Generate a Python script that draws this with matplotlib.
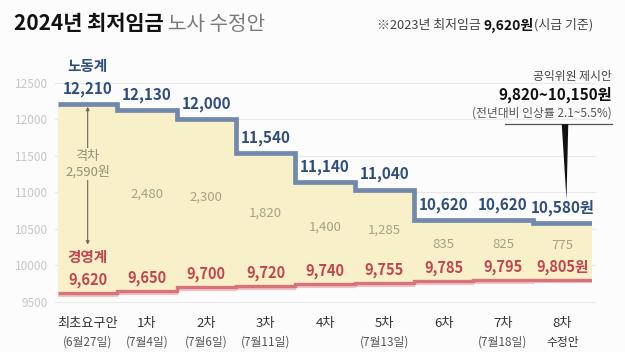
import matplotlib
matplotlib.use('Agg')
import matplotlib.pyplot as plt
from matplotlib.patches import Polygon
from matplotlib.transforms import ScaledTranslation
import numpy as np

plt.rcParams['font.family'] = ['Noto Sans CJK KR', 'DejaVu Sans']

# Data
rounds = ["최초요구안", "1차", "2차", "3차", "4차", "5차", "6차", "7차", "8차"]
dates = ["(6월27일)", "(7월4일)", "(7월6일)", "(7월11일)", "", "(7월13일)", "", "(7월18일)", "수정안"]
labor = [12210, 12130, 12000, 11540, 11140, 11040, 10620, 10620, 10580]
mgmt = [9620, 9650, 9700, 9720, 9740, 9755, 9785, 9795, 9805]
gaps = [2590, 2480, 2300, 1820, 1400, 1285, 835, 825, 775]
yticks = [9500, 10000, 10500, 11000, 11500, 12000, 12500]

BLUE_LINE = '#7189ad'
BLUE_TXT = '#2f4e7d'
RED_LINE = '#d6737b'
RED_TXT = '#c3434f'
FILL = '#f8f0c8'
GAP_TXT = '#a7a088'

W, H = 625, 352
fig = plt.figure(figsize=(W / 100, H / 100), dpi=100, facecolor='#fcfcfc')

# axes spanning x 58..592 px, y 60..310 px
ax = fig.add_axes([58 / W, 1 - 310 / H, (592 - 58) / W, 250 / H])
ax.set_facecolor('none')
n = len(labor)
edges = np.arange(n + 1)
ax.set_xlim(0, n)
ax.set_ylim(9390, 12815)

for yt in yticks:
    ax.axhline(yt, xmin=-0.006, xmax=1.006, color='#e9e9e9', lw=0.8, zorder=0, clip_on=False)

ax.stairs(labor, edges, baseline=mgmt, fill=True, color=FILL, zorder=1)
ax.stairs(mgmt, edges, baseline=None, color='#f0c4c7', lw=1.6, zorder=2,
          transform=ax.transData + ScaledTranslation(0, -2 / 72, fig.dpi_scale_trans))
ax.stairs(mgmt, edges, baseline=None, color=RED_LINE, lw=2.4, zorder=3)
ax.stairs(labor, edges, baseline=None, color=BLUE_LINE, lw=3.4, zorder=3)

ax.set_yticks(yticks)
ax.set_yticklabels([str(v) for v in yticks], fontsize=8.5, color='#c6c6c6')
ax.tick_params(axis='y', length=0, pad=7)
ax.set_xticks([])
for s in ax.spines.values():
    s.set_visible(False)

centers = edges[:-1] + 0.5
for i, (x, b, r, g) in enumerate(zip(centers, labor, mgmt, gaps)):
    suffix = '원' if i == n - 1 else ''
    ax.annotate(f"{b:,}{suffix}", (x, b), xytext=(0, 11), textcoords='offset points',
                ha='center', va='center', fontsize=11, fontweight='bold', color=BLUE_TXT, zorder=5)
    ax.annotate(f"{r:,}{suffix}", (x, r), xytext=(0, 9.5), textcoords='offset points',
                ha='center', va='center', fontsize=10.5, fontweight='bold', color=RED_TXT, zorder=5)
    if i > 0:
        ax.annotate(f"{g:,}", (x, (b + r) / 2), xytext=(0, 4.5), textcoords='offset points',
                    ha='center', va='center', fontsize=9.5, color=GAP_TXT, zorder=4)

# first-round gap arrow
ax.annotate('', xy=(centers[0], 12175), xytext=(centers[0], 10285),
            arrowprops=dict(arrowstyle='<|-|>', color='#6d6b55', lw=0.8,
                            mutation_scale=5, shrinkA=0, shrinkB=0), zorder=4)
ax.text(centers[0], 11390, "격차\n2,590원", ha='center', va='center', fontsize=9.5,
        color='#959078', linespacing=1.2, zorder=5,
        bbox=dict(boxstyle='square,pad=0.15', fc=FILL, ec='none'))

ax.text(centers[0], 12735, "노동계", ha='center', va='center', fontsize=10.5,
        fontweight='bold', color=BLUE_TXT)
ax.text(centers[0], 10110, "경영계", ha='center', va='center', fontsize=10.5,
        fontweight='bold', color=RED_TXT)

# x category labels
xt = ax.get_xaxis_transform()
for x, r, d in zip(centers, rounds, dates):
    ax.text(x, -0.054, r, transform=xt, ha='center', va='center', fontsize=9.5,
            color='#333333', clip_on=False)
    if d:
        ax.text(x, -0.13, d, transform=xt, ha='center', va='center', fontsize=8.5,
                color='#333333' if d == '수정안' else '#555555', clip_on=False)

# public-interest proposal callout
ax.text(9.34, 12590, "공익위원 제시안", ha='right', va='center', fontsize=8.5,
        color='#444444', clip_on=False)
ax.text(9.34, 12345, "9,820~10,150원", ha='right', va='center', fontsize=11,
        fontweight='bold', color='#111111', clip_on=False)
ax.text(9.34, 12090, "(전년대비 인상률 2.1~5.5%)", ha='right', va='center', fontsize=8.5,
        color='#555555', clip_on=False)
ax.plot([7.54, 9.34], [11935, 11935], color='#555555', lw=0.9, clip_on=False)
ax.add_patch(Polygon([[8.49, 11935], [8.6, 11935], [8.57, 10900]], closed=True,
                     fc='#111111', ec='none', clip_on=False, zorder=6))

# header text, chained left to right
renderer = fig.canvas.get_renderer()


def chain(x_px, y_px, parts):
    for txt, kw in parts:
        t = fig.text(x_px / W, 1 - y_px / H, txt, ha='left', va='center', **kw)
        x_px += t.get_window_extent(renderer=renderer).width


chain(14, 24, [("2024년 최저임금 ", dict(fontsize=15, fontweight='bold', color='#111111')),
               ("노사 수정안", dict(fontsize=14.5, fontweight='light', color='#7a7a7a'))])
chain(377, 25, [("※2023년 최저임금 ", dict(fontsize=9.3, color='#444444')),
                ("9,620원", dict(fontsize=10, fontweight='bold', color='#111111')),
                ("(시급 기준)", dict(fontsize=9.3, color='#444444'))])

fig.savefig('out.png', dpi=100, facecolor=fig.get_facecolor())
